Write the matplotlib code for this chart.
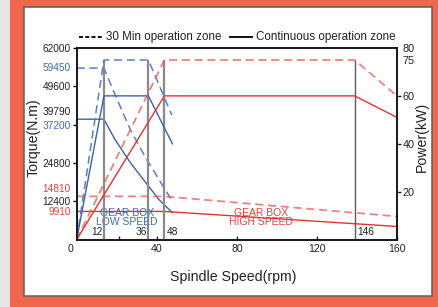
import matplotlib
matplotlib.use("Agg")
import matplotlib.pyplot as plt
from matplotlib.patches import Rectangle
from matplotlib.lines import Line2D

plt.rcParams['font.family'] = ['Liberation Sans', 'DejaVu Sans']
plt.rcParams['lines.scale_dashes'] = False

# ---------------- data ----------------
speed_marks = [13.6, 35.8, 43.8, 138.8]          # gear change speeds (drawn positions)
speed_mark_labels = ['12', '36', '48', '146']

# low speed gear (blue)
low_torque_30_x = [0, 13.6, 20, 27, 34, 41, 47.6]
low_torque_30_y = [55500, 55500, 45600, 35300, 27000, 19500, 12600]
low_torque_c_x = [0, 13.6, 19, 27, 35, 41, 47.8]
low_torque_c_y = [38950, 38950, 32500, 24700, 18000, 13000, 8700]
low_power_30_x = [0, 13.6, 35.8, 47.5]
low_power_30_y = [0, 75, 75, 52]
low_power_c_x = [0, 13.6, 35.8, 47.8]
low_power_c_y = [0, 60, 60, 40]

# high speed gear (red)
high_torque_30_x = [0, 43.8, 160]
high_torque_30_y = [13960, 13960, 7470]
high_torque_c_x = [0, 43.8, 160]
high_torque_c_y = [9090, 9090, 4220]
high_power_30_x = [0, 43.8, 138.8, 160]
high_power_30_y = [0, 75, 75, 60]
high_power_c_x = [0, 43.8, 138.8, 160]
high_power_c_y = [0, 60, 60, 51]

# axis labels
torque_label_pos = [62000, 55830, 49600, 41550, 37200, 24800, 16555, 12400, 9090]
torque_label_txt = ['62000', '59450', '49600', '39790', '37200', '24800', '14810', '12400', '9910']
torque_label_kind = ['k', 'b', 'k', 'k', 'b', 'k', 'r', 'k', 'r']
torque_label_mark = [True, False, True, False, True, True, False, True, False]
power_label_pos = [20, 40, 60, 75, 80]
power_label_txt = ['20', '40', '60', '75', '80']
power_label_mark = [True, True, True, False, False]
speed_ticks = [40, 80, 120, 160]

# ---------------- style ----------------
ORANGE = '#f0674c'
BLUE = '#3a62b0'
BLUE_D = '#5a7ec4'
RED = '#e8312f'
RED_D = '#ee5654'
TXT_BLUE = '#4169b5'
TXT_RED = '#e8403e'
color_of = {'k': '#222222', 'b': TXT_BLUE, 'r': TXT_RED}
DASH = (5.8, 3.4)

W, H = 439, 307
fig = plt.figure(figsize=(W / 100, H / 100), dpi=100, facecolor=ORANGE)

def fx(px):
    return px / W

def fy(py):
    return 1 - py / H

fig.patches.append(Rectangle((0, 0), fx(10), 1, transform=fig.transFigure,
                             facecolor='#e5e5e5', edgecolor='none', zorder=-10))
fig.patches.append(Rectangle((fx(24), fy(296)), fx(432 - 24), (296 - 7) / H,
                             transform=fig.transFigure, facecolor='white',
                             edgecolor='#5c5c5c', lw=1.1, zorder=-9))

ax = fig.add_axes([fx(76.7), fy(239.5), fx(397 - 76.7), (239.5 - 48) / H])
ax.set_zorder(2)
ax.set_facecolor('white')
ax.set_xlim(0, 160)
ax.set_ylim(0, 62000)
ax2 = ax.twinx()
ax2.set_zorder(3)
ax2.set_ylim(0, 80)
ax2.patch.set_visible(False)

for a in (ax, ax2):
    for s in a.spines.values():
        s.set_linewidth(1.1)
        s.set_color('#111111')

LW = 1.0
# torque curves
ax.plot(low_torque_30_x, low_torque_30_y, color=BLUE_D, lw=1.1, dashes=DASH)
ax.plot(low_torque_c_x, low_torque_c_y, color=BLUE, lw=LW)
ax.plot(high_torque_30_x, high_torque_30_y, color=RED_D, lw=1.3, dashes=DASH, alpha=0.75)
ax.plot(high_torque_c_x, high_torque_c_y, color=RED, lw=LW)

# power curves
ax2.vlines(speed_marks[:3], 0, 75, color='#8a8a8a', lw=1.6, zorder=1)
ax2.vlines(speed_marks[3:], 0, 75, color='#5a5a5a', lw=1.0, zorder=1)
ax2.plot(low_power_30_x, low_power_30_y, color=BLUE_D, lw=1.1, dashes=DASH)
ax2.plot(low_power_c_x, low_power_c_y, color=BLUE, lw=LW)
ax2.plot(high_power_30_x, high_power_30_y, color=RED_D, lw=1.3, dashes=DASH, alpha=0.75)
ax2.plot(high_power_c_x, high_power_c_y, color=RED, lw=LW)

# speed markers text
for xv, t in zip(speed_marks, speed_mark_labels):
    if t in ('12', '36'):
        ax2.annotate(t, xy=(xv, 0), xytext=(-1.2, 5.3), textcoords='offset points',
                     ha='right', va='center', fontsize=7.4, color='#222222')
    else:
        ax2.annotate(t, xy=(xv, 0), xytext=(1.8, 5.3), textcoords='offset points',
                     ha='left', va='center', fontsize=7.4, color='#222222')

# gear box texts
ax.text(25.2, 7100, 'GEAR BOX\nLOW SPEED', color=TXT_BLUE, fontsize=7.5,
        ha='center', va='center', linespacing=0.95)
ax.text(92.2, 7100, 'GEAR BOX\nHIGH SPEED', color=TXT_RED, fontsize=7.5,
        ha='center', va='center', linespacing=0.95)

# x ticks
ax.set_xticks(speed_ticks)
ax.set_xticklabels([str(v) for v in speed_ticks])
ax.set_xticks([21.3], minor=True)
ax.tick_params(axis='x', which='both', direction='in', length=3.2, width=1.0,
               pad=3, labelsize=7.6, colors='#222222')
ax.annotate('0', xy=(0, 0), xytext=(-4.8, -3.0), textcoords='offset points',
            ha='center', va='top', fontsize=7.6, color='#222222', annotation_clip=False)

# left ticks
ax.set_yticks(torque_label_pos)
ax.set_yticklabels(torque_label_txt)
ax.tick_params(axis='y', direction='out', length=3.0, width=1.0, pad=1.2, labelsize=7.3)
for tk, kind, mark in zip(ax.yaxis.get_major_ticks(), torque_label_kind, torque_label_mark):
    tk.label1.set_color(color_of[kind])
    tk.tick1line.set_visible(mark)

# right ticks
ax2.set_yticks(power_label_pos)
ax2.set_yticklabels(power_label_txt)
ax2.tick_params(axis='y', direction='out', length=3.0, width=1.0, pad=1.2,
                labelsize=7.8, colors='#222222')
for tk, mark in zip(ax2.yaxis.get_major_ticks(), power_label_mark):
    tk.tick2line.set_visible(mark)

# axis titles
fig.text(fx(34), fy(138), 'Torque(N.m)', rotation=90, ha='center', va='center',
         fontsize=10.2, color='#222222')
fig.text(fx(422), fy(137), 'Power(kW)', rotation=90, ha='center', va='center',
         fontsize=10.2, color='#222222')
fig.text(fx(233.5), fy(277), 'Spindle Speed(rpm)', ha='center', va='center',
         fontsize=10.2, color='#222222')

# legend
fig.add_artist(Line2D([fx(79), fx(102)], [fy(37), fy(37)], transform=fig.transFigure,
                      color='#111111', lw=1.4, dashes=(2.9, 1.6)))
fig.text(fx(106), fy(37), '30 Min operation zone', ha='left', va='center',
         fontsize=8.4, color='#222222')
fig.add_artist(Line2D([fx(230), fx(252)], [fy(37), fy(37)], transform=fig.transFigure,
                      color='#111111', lw=1.4))
fig.text(fx(256), fy(37), 'Continuous operation zone', ha='left', va='center',
         fontsize=8.4, color='#222222')

fig.savefig('out.png', dpi=100, facecolor=ORANGE)
